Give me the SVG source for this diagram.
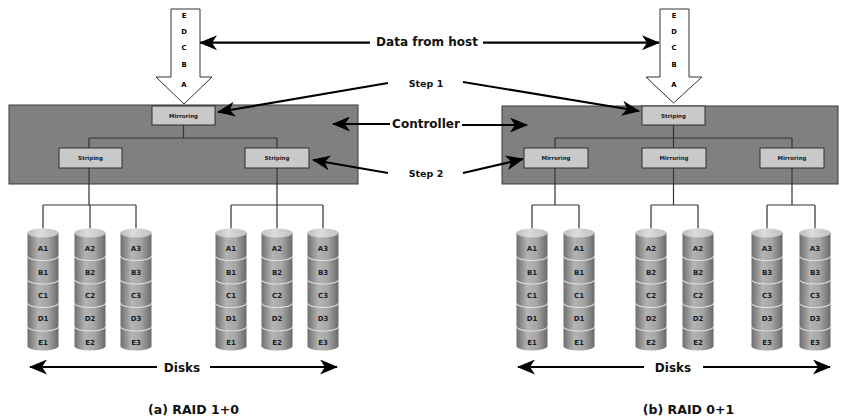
<svg xmlns="http://www.w3.org/2000/svg" xmlns:xlink="http://www.w3.org/1999/xlink" width="841" height="419" viewBox="0 0 841 419">
<style>
text{font-family:"DejaVu Sans","Liberation Sans",sans-serif;font-weight:bold;text-anchor:middle;fill:#111}
.lbl{font-size:12px}
.step{font-size:9.5px}
.cap{font-size:12.5px}
.bx{font-size:5.5px;fill:#1a1a2a}
.dk{font-size:7px;fill:#1a1a28}
.let{font-size:6.8px;fill:#000}
.ctrl{fill:#808080;stroke:#3a3a3a;stroke-width:1}
.box{fill:#c9c9c9;stroke:#2e2e2e;stroke-width:1}
.host{fill:#fff;stroke:#333;stroke-width:1}
.con{stroke:#333;stroke-width:1.2;fill:none}
.arr{stroke:#000;stroke-width:2.2;fill:none;marker-end:url(#ah)}
.sep{stroke:#e2e2e2;stroke-width:1.1;fill:none}
</style>
<defs>
<marker id="ah" markerUnits="userSpaceOnUse" markerWidth="18" markerHeight="15" viewBox="0 0 18 15" refX="17" refY="7.5" orient="auto">
<path d="M0,0 L18,7.5 L0,15 L5,7.5 Z" fill="#000"/>
</marker>
<linearGradient id="dg" x1="0" y1="0" x2="1" y2="0">
<stop offset="0" stop-color="#6e6e6e"/>
<stop offset="0.35" stop-color="#b4b4b4"/>
<stop offset="0.65" stop-color="#a6a6a6"/>
<stop offset="1" stop-color="#6a6a6a"/>
</linearGradient>
<linearGradient id="tg" x1="0" y1="0" x2="1" y2="0">
<stop offset="0" stop-color="#bdbdbd"/>
<stop offset="0.4" stop-color="#dcdcdc"/>
<stop offset="1" stop-color="#c0c0c0"/>
</linearGradient>
<g id="cyl">
<ellipse cx="0" cy="346" rx="15.5" ry="4.5" fill="url(#dg)"/>
<rect x="-15.5" y="233" width="31" height="113" fill="url(#dg)"/>
<path class="sep" d="M-15.5,256 A15.5,4.5 0 0 0 15.5,256"/>
<path class="sep" d="M-15.5,279.5 A15.5,4.5 0 0 0 15.5,279.5"/>
<path class="sep" d="M-15.5,303 A15.5,4.5 0 0 0 15.5,303"/>
<path class="sep" d="M-15.5,326.5 A15.5,4.5 0 0 0 15.5,326.5"/>
<ellipse cx="0" cy="233" rx="15.5" ry="4.5" fill="url(#tg)"/>
</g>
</defs>

<!-- Controllers -->
<g id="controller-a"><rect class="ctrl" x="9" y="105" width="349" height="79"/></g>
<g id="controller-b"><rect class="ctrl" x="502" y="106" width="336" height="78"/></g>

<!-- Connectors -->
<g id="connectors">
<path class="con" d="M183.5,125V138 M89,138H277 M89,138V148 M277,138V148 M89,168V205 M43,205H136 M43,205V228.5 M90,205V228.5 M136,205V228.5 M277,168V205 M231,205H323 M231,205V228.5 M277,205V228.5 M323,205V228.5"/>
<path class="con" d="M673.5,125V138 M555,138H792 M555,138V148 M673.5,138V148 M792,138V148 M555,168V205 M532,205H579 M532,205V228.5 M579,205V228.5 M673.5,168V205 M651,205H698 M651,205V228.5 M698,205V228.5 M792,168V205 M767,205H815 M767,205V228.5 M815,205V228.5"/>
<line class="arr" x1="370" y1="42.7" x2="200" y2="42.7"/>
<line class="arr" x1="483" y1="42.7" x2="659" y2="42.7"/>
<line class="arr" x1="388" y1="83" x2="218" y2="112"/>
<line class="arr" x1="463" y1="82" x2="639" y2="111"/>
<line class="arr" x1="390" y1="124" x2="333" y2="124"/>
<line class="arr" x1="462" y1="125" x2="527" y2="125"/>
<line class="arr" x1="388" y1="173" x2="313" y2="160"/>
<line class="arr" x1="463" y1="173" x2="523" y2="159"/>
<line class="arr" x1="157" y1="367" x2="30" y2="367"/>
<line class="arr" x1="210" y1="367" x2="337" y2="367"/>
<line class="arr" x1="644" y1="367" x2="518" y2="367"/>
<line class="arr" x1="703" y1="367" x2="830" y2="367"/>
</g>

<!-- Host arrows -->
<g id="host-a">
<polygon class="host" points="171,9 200,9 200,77 212,77 184,104 156,77 171,77"/>
<text class="let" x="184" y="17.5">E</text>
<text class="let" x="184" y="33.5">D</text>
<text class="let" x="184" y="49.5">C</text>
<text class="let" x="184" y="66.5">B</text>
<text class="let" x="184" y="86.5">A</text>
</g>
<g id="host-b">
<polygon class="host" points="660,9 689,9 689,77 702,77 673.5,103 646,77 660,77"/>
<text class="let" x="674" y="17.5">E</text>
<text class="let" x="674" y="33.5">D</text>
<text class="let" x="674" y="49.5">C</text>
<text class="let" x="674" y="66.5">B</text>
<text class="let" x="674" y="86.5">A</text>
</g>

<!-- Boxes (a) -->
<g id="a-mirroring"><rect class="box" x="152" y="106" width="63" height="19"/><text class="bx" x="183.5" y="117.5">Mirroring</text></g>
<g id="a-striping-1"><rect class="box" x="59" y="148" width="63" height="20"/><text class="bx" x="90.5" y="160">Striping</text></g>
<g id="a-striping-2"><rect class="box" x="245" y="148" width="64" height="20"/><text class="bx" x="277" y="160">Striping</text></g>

<!-- Boxes (b) -->
<g id="b-striping"><rect class="box" x="642" y="106" width="63" height="19"/><text class="bx" x="673.5" y="117.5">Striping</text></g>
<g id="b-mirroring-1"><rect class="box" x="524" y="148" width="64" height="20"/><text class="bx" x="556" y="160">Mirroring</text></g>
<g id="b-mirroring-2"><rect class="box" x="642" y="148" width="64" height="20"/><text class="bx" x="674" y="160">Mirroring</text></g>
<g id="b-mirroring-3"><rect class="box" x="760" y="148" width="64" height="20"/><text class="bx" x="792" y="160">Mirroring</text></g>

<!-- Disks (a) -->
<g id="a-disk-1"><use xlink:href="#cyl" href="#cyl" x="43"/><g transform="translate(43,0)"><text class="dk" x="0" y="251">A1</text><text class="dk" x="0" y="274.5">B1</text><text class="dk" x="0" y="298">C1</text><text class="dk" x="0" y="321">D1</text><text class="dk" x="0" y="344.5">E1</text></g></g>
<g id="a-disk-2"><use xlink:href="#cyl" href="#cyl" x="90"/><g transform="translate(90,0)"><text class="dk" x="0" y="251">A2</text><text class="dk" x="0" y="274.5">B2</text><text class="dk" x="0" y="298">C2</text><text class="dk" x="0" y="321">D2</text><text class="dk" x="0" y="344.5">E2</text></g></g>
<g id="a-disk-3"><use xlink:href="#cyl" href="#cyl" x="136"/><g transform="translate(136,0)"><text class="dk" x="0" y="251">A3</text><text class="dk" x="0" y="274.5">B3</text><text class="dk" x="0" y="298">C3</text><text class="dk" x="0" y="321">D3</text><text class="dk" x="0" y="344.5">E3</text></g></g>
<g id="a-disk-4"><use xlink:href="#cyl" href="#cyl" x="231"/><g transform="translate(231,0)"><text class="dk" x="0" y="251">A1</text><text class="dk" x="0" y="274.5">B1</text><text class="dk" x="0" y="298">C1</text><text class="dk" x="0" y="321">D1</text><text class="dk" x="0" y="344.5">E1</text></g></g>
<g id="a-disk-5"><use xlink:href="#cyl" href="#cyl" x="277"/><g transform="translate(277,0)"><text class="dk" x="0" y="251">A2</text><text class="dk" x="0" y="274.5">B2</text><text class="dk" x="0" y="298">C2</text><text class="dk" x="0" y="321">D2</text><text class="dk" x="0" y="344.5">E2</text></g></g>
<g id="a-disk-6"><use xlink:href="#cyl" href="#cyl" x="323"/><g transform="translate(323,0)"><text class="dk" x="0" y="251">A3</text><text class="dk" x="0" y="274.5">B3</text><text class="dk" x="0" y="298">C3</text><text class="dk" x="0" y="321">D3</text><text class="dk" x="0" y="344.5">E3</text></g></g>

<!-- Disks (b) -->
<g id="b-disk-1"><use xlink:href="#cyl" href="#cyl" x="532"/><g transform="translate(532,0)"><text class="dk" x="0" y="251">A1</text><text class="dk" x="0" y="274.5">B1</text><text class="dk" x="0" y="298">C1</text><text class="dk" x="0" y="321">D1</text><text class="dk" x="0" y="344.5">E1</text></g></g>
<g id="b-disk-2"><use xlink:href="#cyl" href="#cyl" x="579"/><g transform="translate(579,0)"><text class="dk" x="0" y="251">A1</text><text class="dk" x="0" y="274.5">B1</text><text class="dk" x="0" y="298">C1</text><text class="dk" x="0" y="321">D1</text><text class="dk" x="0" y="344.5">E1</text></g></g>
<g id="b-disk-3"><use xlink:href="#cyl" href="#cyl" x="651"/><g transform="translate(651,0)"><text class="dk" x="0" y="251">A2</text><text class="dk" x="0" y="274.5">B2</text><text class="dk" x="0" y="298">C2</text><text class="dk" x="0" y="321">D2</text><text class="dk" x="0" y="344.5">E2</text></g></g>
<g id="b-disk-4"><use xlink:href="#cyl" href="#cyl" x="698"/><g transform="translate(698,0)"><text class="dk" x="0" y="251">A2</text><text class="dk" x="0" y="274.5">B2</text><text class="dk" x="0" y="298">C2</text><text class="dk" x="0" y="321">D2</text><text class="dk" x="0" y="344.5">E2</text></g></g>
<g id="b-disk-5"><use xlink:href="#cyl" href="#cyl" x="767"/><g transform="translate(767,0)"><text class="dk" x="0" y="251">A3</text><text class="dk" x="0" y="274.5">B3</text><text class="dk" x="0" y="298">C3</text><text class="dk" x="0" y="321">D3</text><text class="dk" x="0" y="344.5">E3</text></g></g>
<g id="b-disk-6"><use xlink:href="#cyl" href="#cyl" x="815"/><g transform="translate(815,0)"><text class="dk" x="0" y="251">A3</text><text class="dk" x="0" y="274.5">B3</text><text class="dk" x="0" y="298">C3</text><text class="dk" x="0" y="321">D3</text><text class="dk" x="0" y="344.5">E3</text></g></g>

<!-- Labels -->
<g id="labels">
<text class="lbl" x="427" y="46">Data from host</text>
<text class="step" x="426" y="87">Step 1</text>
<text class="lbl" x="426" y="128">Controller</text>
<text class="step" x="426" y="177">Step 2</text>
<text class="lbl" x="182" y="372">Disks</text>
<text class="lbl" x="673" y="372">Disks</text>
<text class="cap" x="193.5" y="414">(a) RAID 1+0</text>
<text class="cap" x="688.5" y="414">(b) RAID 0+1</text>
</g>
</svg>
